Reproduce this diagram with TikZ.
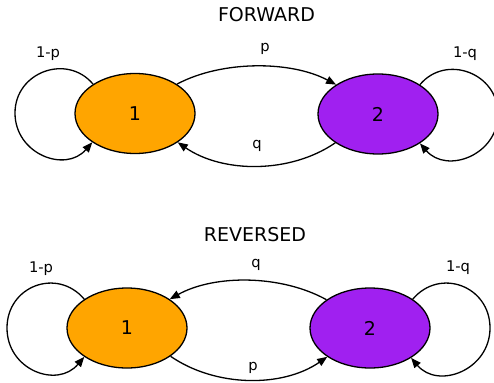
\documentclass[tikz,border=0pt]{standalone}
\usepackage{fontspec}
\setmainfont{DejaVu Sans}
\usetikzlibrary{shapes.geometric,arrows.meta}
\definecolor{gvorange}{HTML}{FFA500}
\definecolor{gvpurple}{HTML}{A020F0}
\begin{document}
\begin{tikzpicture}[x=1pt,y=-1pt,
  stnode/.style={ellipse,draw,line width=1.3pt,minimum width=120pt,minimum height=80pt,inner sep=0pt,font=\fontsize{19}{19}\selectfont},
  edgeline/.style={line width=1.3pt,-{Triangle[length=10pt,width=8pt]}},
  lbl/.style={anchor=base,inner sep=0pt,font=\fontsize{14.7}{15}\selectfont},
  ttl/.style={anchor=base,inner sep=0pt,font=\fontsize{19}{19}\selectfont}]
\useasboundingbox (0,0) rectangle (494,382);

% ---------- FORWARD ----------
\node[ttl] (t1) at (266.5,22) {FORWARD};
\node[stnode,fill=gvorange] (a) at (135,113.5) {1};
\node[stnode,fill=gvpurple] (b) at (378,114) {2};
\coordinate (la) at (15,113);
\coordinate (rb) at (498,114);

\draw[edgeline] (a.145) .. controls +(-26,-31) and +(0,-41) .. (la)
  .. controls +(0,41) and +(-27,31) .. (a.214);
\draw[edgeline] (b.35) .. controls +(26,-31) and +(0,-41) .. (rb)
  .. controls +(0,41) and +(27,31) .. (b.-35);
\draw[edgeline] (a.35) .. controls +(45,-24) and +(-45,-24) .. (b.145);
\draw[edgeline] (b.-146) .. controls +(-45,31) and +(45,31) .. (a.-34);

\node[lbl] (lpa) at (48,57.5) {1-p};
\node[lbl] (lp) at (265,52) {p};
\node[lbl] (lqb) at (465,57.5) {1-q};
\node[lbl] (lq) at (257,149) {q};

% ---------- REVERSED ----------
\node[ttl] (t2) at (255,241) {REVERSED};
\node[stnode,fill=gvorange] (c) at (127,328) {1};
\node[stnode,fill=gvpurple] (d) at (370,328) {2};
\coordinate (lc) at (7,328);
\coordinate (rd) at (490,328);

\draw[edgeline] (c.146) .. controls +(-27,-32) and +(0,-42) .. (lc)
  .. controls +(0,42) and +(-27,32) .. (c.214);
\draw[edgeline] (d.34) .. controls +(27,-32) and +(0,-42) .. (rd)
  .. controls +(0,42) and +(27,32) .. (d.-36);
\draw[edgeline] (d.147) .. controls +(-45,-25) and +(45,-25) .. (c.34);
\draw[edgeline] (c.-33) .. controls +(45,31) and +(-45,31) .. (d.-146);

\node[lbl] (lpc) at (41,272) {1-p};
\node[lbl] (lq2) at (256,267) {q};
\node[lbl] (lqd) at (458,271) {1-q};
\node[lbl] (lp2) at (253,370) {p};
\end{tikzpicture}
\end{document}
